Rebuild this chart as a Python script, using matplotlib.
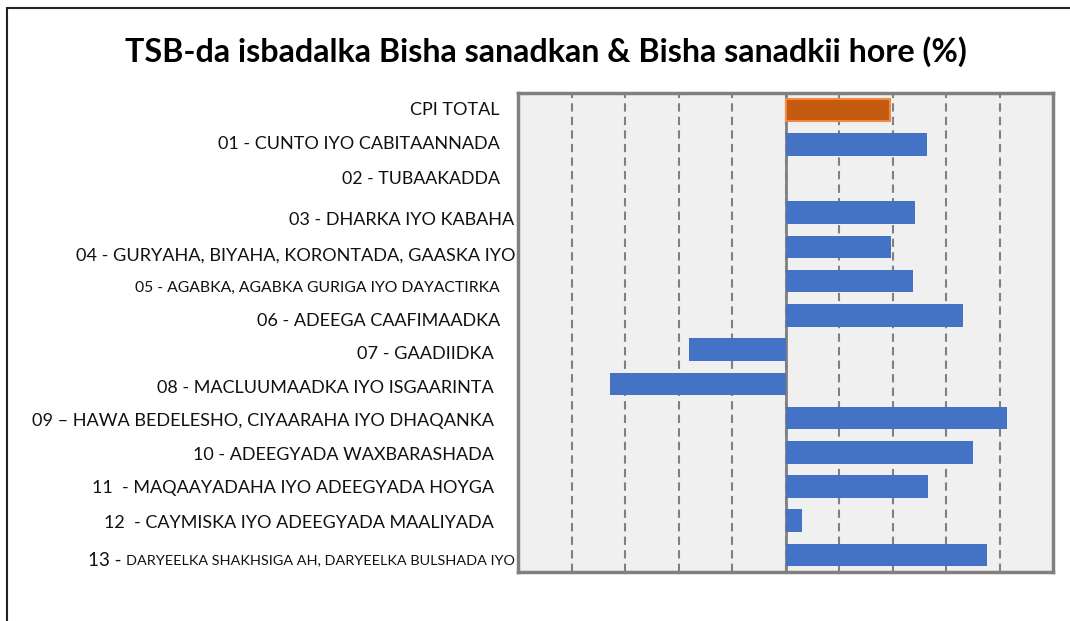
import matplotlib
matplotlib.use("Agg")
import matplotlib.pyplot as plt
import matplotlib.transforms as mtransforms
from matplotlib.patches import Rectangle

plt.rcParams['font.family'] = ['Lato', 'DejaVu Sans']

## données
categories = ["CPI TOTAL",
              "01 - CUNTO IYO CABITAANNADA",
              "02 - TUBAAKADDA",
              "03 - DHARKA IYO KABAHA",
              "04 - GURYAHA, BIYAHA, KORONTADA, GAASKA IYO",
              "05 - AGABKA, AGABKA GURIGA IYO DAYACTIRKA",
              "06 - ADEEGA CAAFIMAADKA",
              "07 - GAADIIDKA",
              "08 - MACLUUMAADKA IYO ISGAARINTA",
              "09 \u2013 HAWA BEDELESHO, CIYAARAHA IYO DHAQANKA",
              "10 - ADEEGYADA WAXBARASHADA",
              "11  - MAQAAYADAHA IYO ADEEGYADA HOYGA",
              "12  - CAYMISKA IYO ADEEGYADA MAALIYADA",
              "DARYEELKA SHAKHSIGA AH, DARYEELKA BULSHADA IYO"]
valeurs = [1.96, 2.64, 0.0, 2.42, 1.98, 2.38, 3.32, -1.80, -3.28, 4.14, 3.50, 2.66, 0.30, 3.77]
prefixe_13 = "13 - "
titre = "TSB-da isbadalka Bisha sanadkan & Bisha sanadkii hore (%)"

# style des étiquettes (taille, décalage droite en px, décalage vertical en px)
tailles = [13, 13, 12.8, 13, 13.1, 11.3, 13, 13.1, 13, 13.1, 13, 13, 13, 10.4]
dx_px = [-18, -18, -18, -4, -3, -18, -18, -24, -24, -24, -24, -24, -24, -3]
dy_px = [0, 0, 0, 7, 9, 7, 6, 4, 4, 3, 3, 2, 2, 5]

bleu = "#4472c4"
orange = "#c55a11"
gris = "#808080"

fig = plt.figure(figsize=(10.7, 6.21), dpi=100)
ax = fig.add_axes([518/1070, 1-572/621, 535/1070, 479/621])
ax.set_facecolor("#f0f0f0")

pos = list(range(len(categories)))
couleurs = [orange] + [bleu]*(len(categories)-1)
bars = ax.barh(pos, valeurs, height=0.66, color=couleurs, zorder=3)
bars[0].set_edgecolor("#f08a40")
bars[0].set_linewidth(1.5)

ax.set_xlim(-5, 5)
ax.set_ylim(len(categories)-0.5, -0.5)
ax.set_xticks(range(-4, 5))
ax.set_yticks([])
ax.tick_params(axis='x', length=0, labelbottom=False)
ax.grid(axis='x', color=gris, linestyle=(0, (4, 2.5)), linewidth=1.5, zorder=1)
ax.axvline(0, color=gris, lw=2, zorder=2)
for s in ax.spines.values():
    s.set_color(gris)
    s.set_linewidth(2.5)

# étiquettes des catégories
for i, lab in enumerate(categories):
    tr = ax.get_yaxis_transform() + mtransforms.ScaledTranslation(dx_px[i]/100, -dy_px[i]/100, fig.dpi_scale_trans)
    t = ax.text(0, i, lab, transform=tr, ha='right', va='center', fontsize=tailles[i], color="#111111")
    if i == len(categories)-1:
        ax.annotate(prefixe_13, xy=(0, 0.42), xycoords=t, ha='right', va='center',
                    fontsize=13.5, color="#111111")

fig.text(546/1070, 1-52/621, titre, ha='center', va='center', fontsize=23.2, fontweight='bold')

# cadre extérieur
fig.patches.append(Rectangle((7/1070, -0.1), 1.2, 1-8/621+0.1, transform=fig.transFigure,
                             fill=False, edgecolor="#222222", lw=1.5))

plt.savefig("out.png", dpi=100)
